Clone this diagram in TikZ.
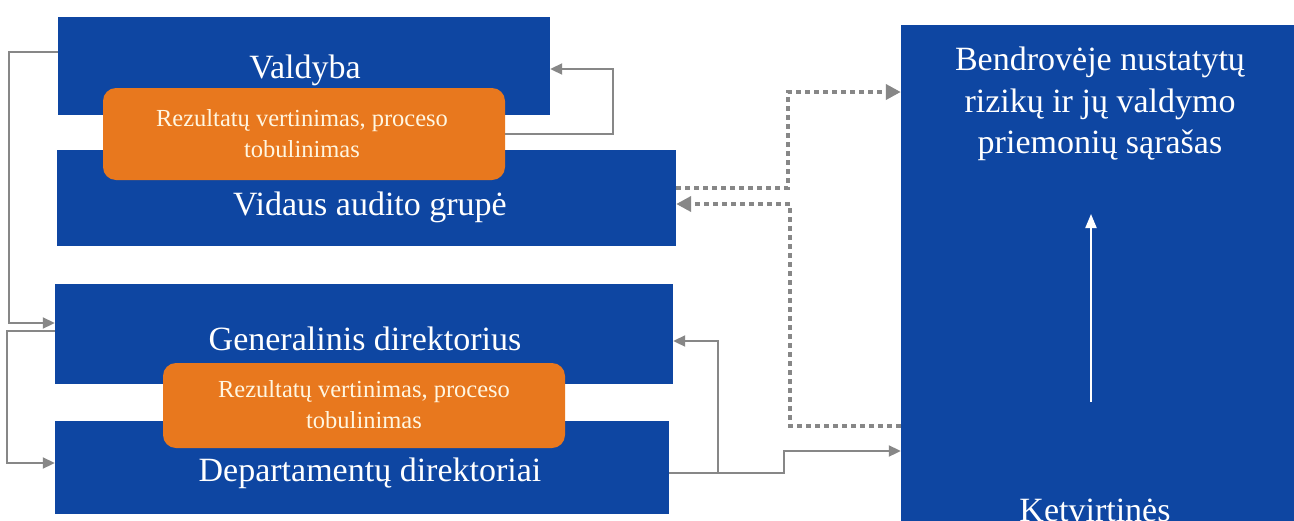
\documentclass[tikz,border=0pt]{standalone}
\usepackage{fontspec}
\setmainfont{Liberation Serif}
\usetikzlibrary{arrows.meta}
\definecolor{boxblue}{RGB}{14,70,162}
\definecolor{boxorange}{RGB}{232,120,30}
\definecolor{linegray}{RGB}{135,135,135}
\definecolor{txtorange}{RGB}{255,246,225}
\tikzset{
  bluebox/.style={rectangle, fill=boxblue, draw=none, inner sep=0pt},
  orangebox/.style={rectangle, rounded corners=13pt, fill=boxorange, draw=none, inner sep=0pt},
  bigtext/.style={text=white, font=\fontsize{34}{41.5}\selectfont, align=center, inner sep=0pt},
  smalltext/.style={text=txtorange, font=\fontsize{24.5}{31}\selectfont, align=center, inner sep=0pt},
  conn/.style={draw=linegray, line width=2pt, -{Triangle[length=12pt,width=11pt]}},
  dotconn/.style={draw=linegray, line width=4.5pt, dash pattern=on 4.5pt off 4.5pt, -{Triangle[length=15pt,width=15pt]}},
  whitearrow/.style={draw=white, line width=2pt, -{Triangle[length=14pt,width=11pt]}}
}
\begin{document}
\begin{tikzpicture}[x=1pt,y=-1pt]
\useasboundingbox (0,0) rectangle (1294,520);
\clip (0,0) rectangle (1294,520);
\fill[white] (0,0) rectangle (1294,520);

% right box
\node[bluebox, minimum width=399pt, minimum height=505pt] (list) at (1100.5,277.5) {};
\node[bigtext] (listtxt) at (1100,104) {Bendrovėje nustatytų\\rizikų ir jų valdymo\\priemonių sąrašas};
\node[bigtext, anchor=base] (ketv) at (1095,521) {Ketvirtinės};
\coordinate (wa1) at (1091,402);
\coordinate (wa2) at (1091,214);
\draw[whitearrow] (wa1) -- (wa2);

% left boxes
\node[bluebox, minimum width=492pt, minimum height=98pt] (valdyba) at (304,66) {};
\node[bluebox, minimum width=619pt, minimum height=96pt] (vidaus) at (366.5,198) {};
\node[orangebox, minimum width=402pt, minimum height=92pt] (or1) at (304,134) {};
\node[bigtext] (valdybatxt) at (305,70) {Valdyba};
\node[bigtext] (vidaustxt) at (370,207) {Vidaus audito grupė};
\node[smalltext] (or1txt) at (302,134) {Rezultatų vertinimas, proceso\\tobulinimas};

\node[bluebox, minimum width=618pt, minimum height=100pt] (gen) at (364,334) {};
\node[bluebox, minimum width=614pt, minimum height=93pt] (dep) at (362,467.5) {};
\node[orangebox, minimum width=402pt, minimum height=85pt] (or2) at (364,405.5) {};
\node[bigtext] (gentxt) at (365,339) {Generalinis direktorius};
\node[bigtext] (deptxt) at (370,473) {Departamentų direktoriai};
\node[smalltext] (or2txt) at (364,405) {Rezultatų vertinimas, proceso\\tobulinimas};

% left connectors
\draw[conn] ([yshift=14pt]valdyba.west) -| (9,323) -- ([yshift=11pt]gen.west);
\draw[conn] ([yshift=3pt]gen.west) -| (7,463) -- ([yshift=4.5pt]dep.west);
\draw[conn] (or1.east) -| (613,69) -- ([yshift=-3pt]valdyba.east);

% dotted connectors
\draw[dotconn] ([yshift=10pt]vidaus.east) -| (788,92) -- ([yshift=185.5pt]list.west);
\draw[dotconn] ([yshift=-148.5pt]list.west) -| (790,204) -- ([yshift=-6pt]vidaus.east);

% bottom connectors
\draw[conn] ([yshift=-5.5pt]dep.east) -| (784,451) -- ([yshift=-173.5pt]list.west);
\coordinate (br) at (718,473);
\draw[conn] (br) |- ([yshift=-7pt]gen.east);
\end{tikzpicture}
\end{document}
